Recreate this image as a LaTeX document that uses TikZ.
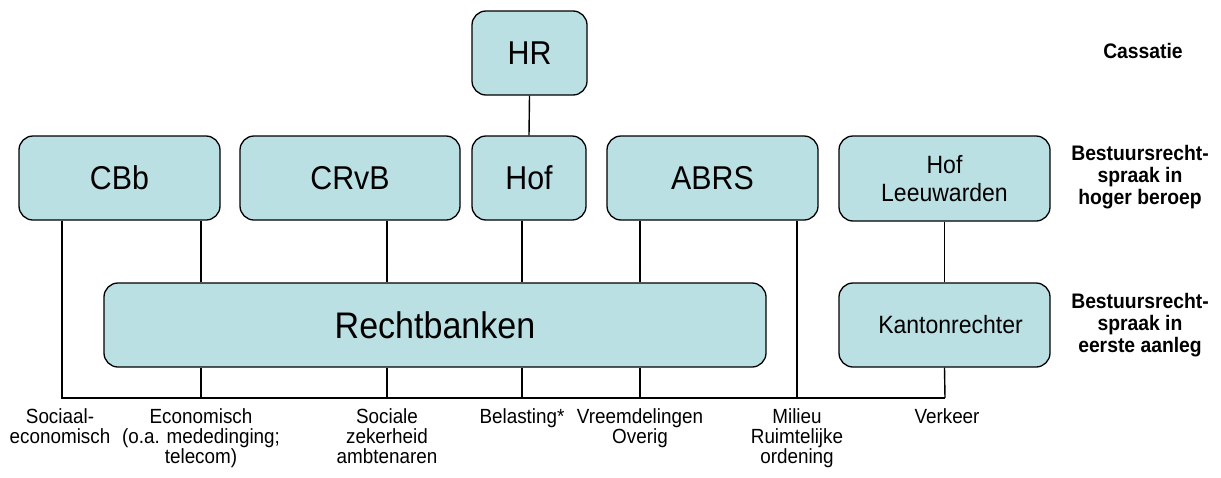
\documentclass[tikz,border=0pt]{standalone}
\usepackage{fontspec}
\setmainfont{Liberation Sans}[FakeStretch=0.92]
\definecolor{boxfill}{RGB}{187,224,227}
\begin{document}
\begin{tikzpicture}[x=1pt,y=-1pt,
  court/.style={draw=black,line width=1.3pt,fill=boxfill,rounded corners=14pt,inner sep=0pt},
  big/.style={font=\fontsize{33}{36}\selectfont},
  huge/.style={font=\fontsize{37}{40}\selectfont},
  mid/.style={font=\fontsize{25}{28}\selectfont,align=center},
  lab/.style={font=\fontsize{20.5}{20}\selectfont,align=center,anchor=north,inner sep=0pt},
  side/.style={font=\bfseries\fontsize{21}{22}\selectfont,align=center,inner sep=0pt},
  conn/.style={line width=1.4pt}]
\useasboundingbox (0,0) rectangle (1221,477);
% boxes
\node[court,big,minimum width=115pt,minimum height=84pt] (hr) at (529.5,53) {HR};
\node[court,big,minimum width=201pt,minimum height=84pt] (cbb) at (119.5,178) {CBb};
\node[court,big,minimum width=220pt,minimum height=84pt] (crvb) at (350,178) {CRvB};
\node[court,big,minimum width=114pt,minimum height=84pt] (hof) at (529,178) {Hof};
\node[court,big,minimum width=211pt,minimum height=84pt] (abrs) at (712.5,178) {ABRS};
\node[court,mid,minimum width=211pt,minimum height=85pt] (hofl) at (944.5,178.5) {Hof\\Leeuwarden};
\node[court,huge,minimum width=662pt,minimum height=84pt] (rb) at (435,325) {Rechtbanken};
\node[court,mid,minimum width=211pt,minimum height=84pt,text width=200pt,align=center] (kr) at (944.5,325) {\hspace*{12pt}Kantonrechter};
% side labels
\node[side] (cas) at (1143,51) {Cassatie};
\node[side] (hb) at (1140,177) {Bestuursrecht-\\spraak in\\hoger beroep};
\node[side] (ea) at (1140,325) {Bestuursrecht-\\spraak in\\eerste aanleg};
% bottom coordinates
\coordinate (b1) at (62,398);
\coordinate (b2) at (201,398);
\coordinate (b3) at (387,398);
\coordinate (b4) at (522,398);
\coordinate (b5) at (640,398);
\coordinate (b6) at (797,398);
\coordinate (b7) at (945,398);
% connectors
\draw[conn] (hr.south) -- (hof.north);
\draw[conn] (hofl.south) -- (kr.north);
\draw[conn] (kr.south) -- (b7);
\draw[conn] (b1 |- cbb.south) -- (b1) -- (b7);
\draw[conn] (b2 |- cbb.south) -- (b2 |- rb.north);
\draw[conn] (b2 |- rb.south) -- (b2);
\draw[conn] (b3 |- crvb.south) -- (b3 |- rb.north);
\draw[conn] (b3 |- rb.south) -- (b3);
\draw[conn] (b4 |- hof.south) -- (b4 |- rb.north);
\draw[conn] (b4 |- rb.south) -- (b4);
\draw[conn] (b5 |- abrs.south) -- (b5 |- rb.north);
\draw[conn] (b5 |- rb.south) -- (b5);
\draw[conn] (b6 |- abrs.south) -- (b6);
% bottom labels
\node[lab] (l1) at (60,408) {Sociaal-\\economisch};
\node[lab] (l2) at (201,408) {Economisch\\(o.a. mededinging;\\telecom)};
\node[lab] (l3) at (387,408) {Sociale\\zekerheid\\ambtenaren};
\node[lab] (l4) at (522,408) {Belasting*};
\node[lab] (l5) at (640,408) {Vreemdelingen\\Overig};
\node[lab] (l6) at (797,408) {Milieu\\Ruimtelijke\\ordening};
\node[lab] (l7) at (947,408) {Verkeer};
\end{tikzpicture}
\end{document}
